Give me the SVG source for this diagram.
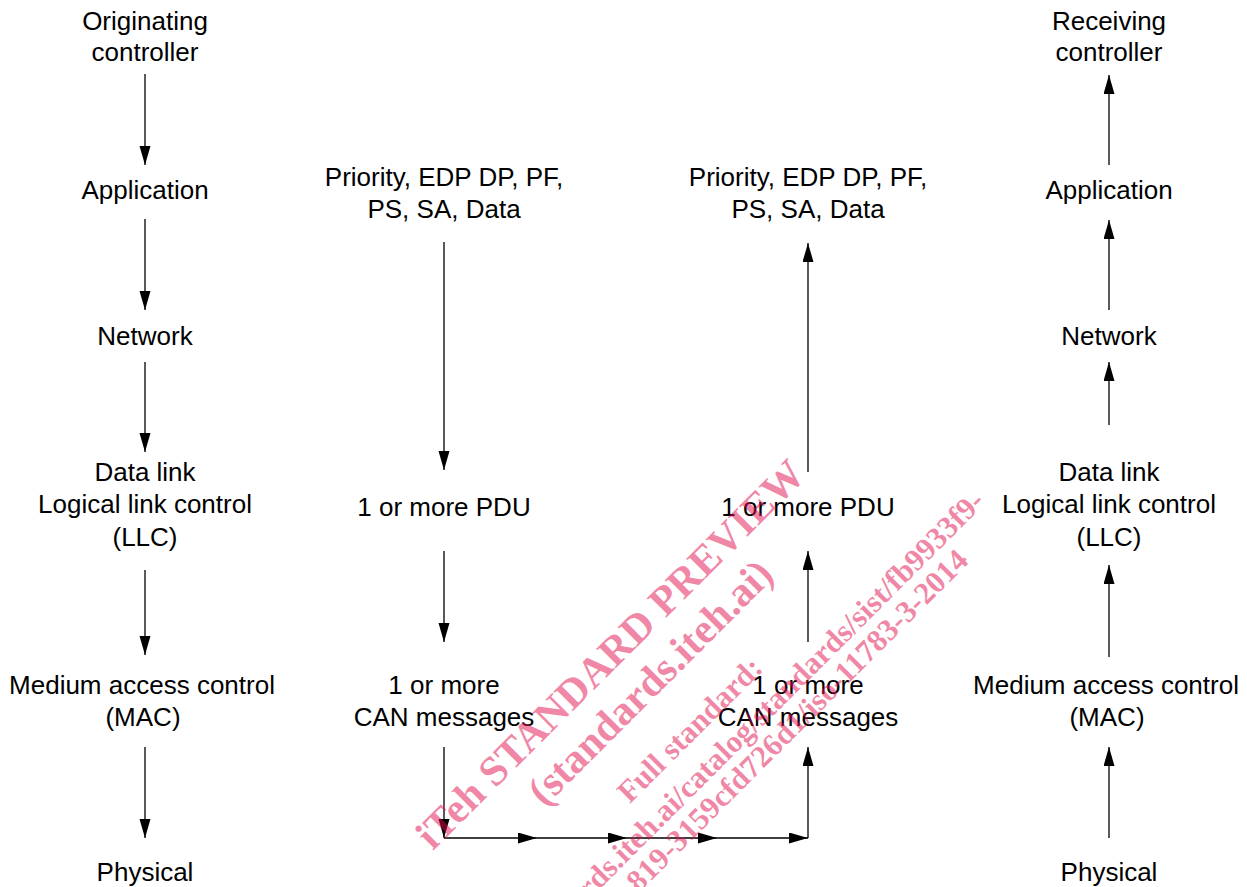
<svg xmlns="http://www.w3.org/2000/svg" width="1247" height="887" viewBox="0 0 1247 887">
<style>
.t{font-family:"Liberation Sans",Arial,sans-serif;font-size:26px;fill:#000;text-anchor:middle}
.c line{stroke:#000;stroke-width:1.3;marker-end:url(#ah)}
.wm{font-family:"Liberation Serif","Times New Roman",serif;font-weight:bold;fill:rgb(225,15,80);fill-opacity:0.5}
</style>
<defs>
<marker id="ah" markerUnits="userSpaceOnUse" markerWidth="20" markerHeight="12" refX="19" refY="5.5" orient="auto">
<path d="M0,0 L19,5.5 L0,11 Z" fill="#000"/>
</marker>
</defs>
<rect width="1247" height="887" fill="#fff"/>
<g id="orig"><text class="t" x="145" y="30">Originating</text><text class="t" x="145" y="61">controller</text></g>
<g id="app-l"><text class="t" x="145" y="199">Application</text></g>
<g id="net-l"><text class="t" x="145" y="345">Network</text></g>
<g id="llc-l"><text class="t" x="145" y="481">Data link</text><text class="t" x="145" y="513">Logical link control</text><text class="t" x="145" y="546">(LLC)</text></g>
<g id="mac-l"><text class="t" x="142" y="694">Medium access control</text><text class="t" x="143" y="726">(MAC)</text></g>
<g id="phy-l"><text class="t" x="145" y="881">Physical</text></g>
<g id="fields-tx"><text class="t" x="444" y="186">Priority, EDP DP, PF,</text><text class="t" x="444" y="218">PS, SA, Data</text></g>
<g id="pdu-tx"><text class="t" x="444" y="516">1 or more PDU</text></g>
<g id="can-tx"><text class="t" x="444" y="694">1 or more</text><text class="t" x="444" y="726">CAN messages</text></g>
<g id="fields-rx"><text class="t" x="808" y="186">Priority, EDP DP, PF,</text><text class="t" x="808" y="218">PS, SA, Data</text></g>
<g id="pdu-rx"><text class="t" x="808" y="516">1 or more PDU</text></g>
<g id="can-rx"><text class="t" x="808" y="694">1 or more</text><text class="t" x="808" y="726">CAN messages</text></g>
<g id="recv"><text class="t" x="1109" y="30">Receiving</text><text class="t" x="1109" y="61">controller</text></g>
<g id="app-r"><text class="t" x="1109" y="199">Application</text></g>
<g id="net-r"><text class="t" x="1109" y="345">Network</text></g>
<g id="llc-r"><text class="t" x="1109" y="481">Data link</text><text class="t" x="1109" y="513">Logical link control</text><text class="t" x="1109" y="546">(LLC)</text></g>
<g id="mac-r"><text class="t" x="1106" y="694">Medium access control</text><text class="t" x="1107" y="726">(MAC)</text></g>
<g id="phy-r"><text class="t" x="1109" y="881">Physical</text></g>
<g id="connectors" class="c">
<line x1="145" y1="74" x2="145" y2="165"/>
<line x1="145" y1="219" x2="145" y2="310"/>
<line x1="145" y1="362" x2="145" y2="452"/>
<line x1="145" y1="570" x2="145" y2="655"/>
<line x1="145" y1="747" x2="145" y2="838"/>
<line x1="444" y1="242" x2="444" y2="470"/>
<line x1="444" y1="551" x2="444" y2="642"/>
<line x1="444" y1="747" x2="444" y2="838"/>
<line x1="444" y1="838" x2="537" y2="838"/>
<line x1="537" y1="838" x2="627" y2="838"/>
<line x1="627" y1="838" x2="717" y2="838"/>
<line x1="717" y1="838" x2="808" y2="838"/>
<line x1="808" y1="838" x2="808" y2="747"/>
<line x1="808" y1="642" x2="808" y2="551"/>
<line x1="808" y1="472" x2="808" y2="243"/>
<line x1="1109" y1="838" x2="1109" y2="747"/>
<line x1="1109" y1="657" x2="1109" y2="565"/>
<line x1="1109" y1="425" x2="1109" y2="362"/>
<line x1="1109" y1="310" x2="1109" y2="220"/>
<line x1="1109" y1="165" x2="1109" y2="75"/>
</g>
<g id="watermark" class="wm">
<text font-size="42" text-anchor="middle" transform="translate(620,664) rotate(-45)">iTeh STANDARD PREVIEW</text>
<text font-size="42" text-anchor="middle" transform="translate(660,692) rotate(-45)">(standards.iteh.ai)</text>
<text font-size="31" text-anchor="middle" transform="translate(697,737) rotate(-45)">Full standard:</text>
<text font-size="31" text-anchor="end" transform="translate(986,503) rotate(-45)">https://standards.iteh.ai/catalog/standards/sist/fb9933f9-</text>
<text font-size="31" text-anchor="end" transform="translate(970,562) rotate(-45)">819-3159cfd726d1/iso-11783-3-2014</text>
</g>
</svg>
